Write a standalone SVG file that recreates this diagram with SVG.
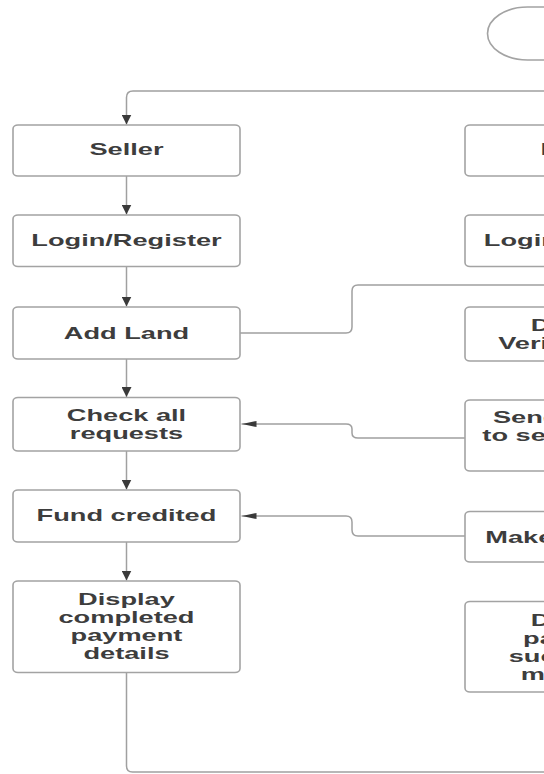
<svg xmlns="http://www.w3.org/2000/svg" width="544" height="774" viewBox="0 0 544 774">
<style>
.box{fill:#ffffff;stroke:#a3a3a3;stroke-width:1.6}
.lbl{font-family:"Liberation Sans",Arial,sans-serif;font-weight:bold;font-size:17px;fill:#3d3d3d;text-anchor:middle}
.ln{fill:none;stroke:#a0a0a0;stroke-width:1.5}
.v{marker-end:url(#arrV)}
.h{marker-end:url(#arrH)}
</style>
<defs>
<marker id="arrV" markerUnits="userSpaceOnUse" viewBox="0 0 10 10" markerWidth="10" markerHeight="10" refX="10" refY="5" orient="auto">
<path d="M0,0 L10,5 L0,10 Z" fill="#3a3a3a"/>
</marker>
<marker id="arrH" markerUnits="userSpaceOnUse" viewBox="0 0 15 6" markerWidth="15" markerHeight="6" refX="15" refY="3" orient="auto">
<path d="M0,0 L15,3 L0,6 Z" fill="#3a3a3a"/>
</marker>
</defs>
<rect width="544" height="774" fill="#ffffff"/>

<g id="connectors">
<path class="ln v" d="M544,91 H133 Q126.5,91 126.5,97.5 V124.5"/>
<path class="ln v" d="M126.5,176 V214.5"/>
<path class="ln v" d="M126.5,266.5 V306.5"/>
<path class="ln v" d="M126.5,359 V397"/>
<path class="ln v" d="M126.5,451 V489.5"/>
<path class="ln v" d="M126.5,542 V580.5"/>
<path class="ln" d="M126.5,672.5 V766 Q126.5,772 132.5,772 H544"/>
<path class="ln" d="M240,333 H346 Q352,333 352,327 V291 Q352,285 358,285 H544"/>
<path class="ln h" d="M465,438 H358 Q352,438 352,433 V429 Q352,424 346,424 H241.5"/>
<path class="ln h" d="M465,536 H358 Q352,536 352,530 V522 Q352,516 346,516 H241.5"/>
</g>

<g id="start">
<rect class="box" x="487.5" y="7" width="220" height="53" rx="40" ry="26.5"/>
</g>

<g id="seller">
<rect class="box" x="13" y="125" width="227" height="51" rx="5" ry="4"/>
<text class="lbl" transform="scale(1.6,1)" x="79.06" y="155.5">Seller</text>
</g>
<g id="seller-login">
<rect class="box" x="13" y="215" width="227" height="51.5" rx="5" ry="4"/>
<text class="lbl" transform="scale(1.6,1)" x="79.06" y="246">Login/Register</text>
</g>
<g id="add-land">
<rect class="box" x="13" y="307" width="227" height="52" rx="5" ry="4"/>
<text class="lbl" transform="scale(1.6,1)" x="79.06" y="339">Add Land</text>
</g>
<g id="check-requests">
<rect class="box" x="13" y="397.5" width="227" height="53.5" rx="5" ry="4"/>
<text class="lbl" transform="scale(1.6,1)" x="79.06" y="421.5">Check all</text>
<text class="lbl" transform="scale(1.6,1)" x="79.06" y="439.5">requests</text>
</g>
<g id="fund-credited">
<rect class="box" x="13" y="490" width="227" height="52" rx="5" ry="4"/>
<text class="lbl" transform="scale(1.6,1)" x="79.06" y="521.5">Fund credited</text>
</g>
<g id="display-completed">
<rect class="box" x="13" y="581" width="227" height="91.5" rx="5" ry="4"/>
<text class="lbl" transform="scale(1.6,1)" x="79.06" y="605.5">Display</text>
<text class="lbl" transform="scale(1.6,1)" x="79.06" y="623.5">completed</text>
<text class="lbl" transform="scale(1.6,1)" x="79.06" y="641.5">payment</text>
<text class="lbl" transform="scale(1.6,1)" x="79.06" y="659.5">details</text>
</g>

<g id="buyer">
<rect class="box" x="465" y="125" width="227" height="51" rx="5" ry="4"/>
<text class="lbl" transform="scale(1.6,1)" x="361.9" y="155.5">Buyer</text>
</g>
<g id="buyer-login">
<rect class="box" x="465" y="215" width="227" height="51.5" rx="5" ry="4"/>
<text class="lbl" transform="scale(1.6,1)" x="361.9" y="246">Login/Register</text>
</g>
<g id="display-verify">
<rect class="box" x="465" y="307" width="227" height="54" rx="5" ry="4"/>
<text class="lbl" transform="scale(1.6,1)" x="361.9" y="331">Display</text>
<text class="lbl" transform="scale(1.6,1)" x="361.9" y="349">Verify Lands</text>
</g>
<g id="send-request">
<rect class="box" x="465" y="400" width="227" height="71" rx="5" ry="4"/>
<text class="lbl" transform="scale(1.6,1)" x="361.9" y="423">Send request</text>
<text class="lbl" transform="scale(1.6,1)" x="361.9" y="441">to seller to buy</text>
</g>
<g id="make-payment">
<rect class="box" x="465" y="511.5" width="227" height="50.5" rx="5" ry="4"/>
<text class="lbl" transform="scale(1.6,1)" x="361.9" y="543">Make payment</text>
</g>
<g id="display-success">
<rect class="box" x="465" y="601.5" width="227" height="90.5" rx="5" ry="4"/>
<text class="lbl" transform="scale(1.6,1)" x="361.9" y="626">Display</text>
<text class="lbl" transform="scale(1.6,1)" x="361.9" y="644">payment</text>
<text class="lbl" transform="scale(1.6,1)" x="361.9" y="662">successful</text>
<text class="lbl" transform="scale(1.6,1)" x="361.9" y="680">message</text>
</g>
</svg>
